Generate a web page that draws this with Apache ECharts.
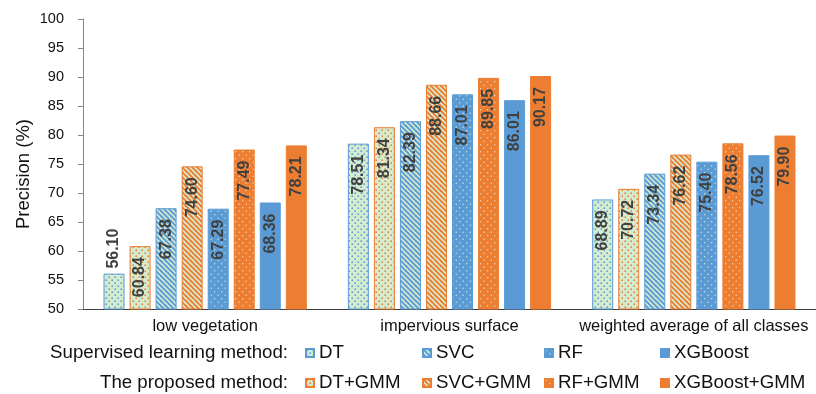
<!DOCTYPE html>
<html>
<head>
<meta charset="utf-8">
<script src="https://cdn.jsdelivr.net/npm/echarts@6/dist/echarts.min.js"></script>
<style>
  html, body { margin: 0; padding: 0; background: #fff; }
  #chart { width: 816px; height: 394px; }
</style>
</head>
<body>
<div id="chart"></div>
<script>
// Land-cover classes on the category axis
const categories = ['low vegetation', 'impervious surface', 'weighted average of all classes'];

// Precision (%) per method, one value per class
const dtValues          = [56.10, 78.51, 68.89];
const dtGmmValues       = [60.84, 81.34, 70.72];
const svcValues         = [67.38, 82.39, 73.34];
const svcGmmValues      = [74.60, 88.66, 76.62];
const rfValues          = [67.29, 87.01, 75.40];
const rfGmmValues       = [77.49, 89.85, 78.56];
const xgbValues         = [68.36, 86.01, 76.52];
const xgbGmmValues      = [78.21, 90.17, 79.90];

// Legend rows: baseline methods and their GMM counterparts
const legendRowBase = ['DT', 'SVC', 'RF', 'XGBoost'];
const legendRowGmm  = ['DT+GMM', 'SVC+GMM', 'RF+GMM', 'XGBoost+GMM'];
const legendRowTitles = ['Supervised learning method:', 'The proposed method:'];

const yTicks = { min: 50, max: 100, step: 5 };

const BLUE = '#5b9bd5';
const ORANGE = '#ed7d31';
const MINT = '#d3ebcf';
const FONT = 'Liberation Sans, Arial, sans-serif';

function tile(size, draw) {
  const c = document.createElement('canvas');
  c.width = size; c.height = size;
  const ctx = c.getContext('2d');
  draw(ctx, size);
  return { image: c, repeat: 'repeat' };
}
function dots(bg, fg, size, r) {
  return tile(size, (ctx, s) => {
    ctx.fillStyle = bg; ctx.fillRect(0, 0, s, s);
    ctx.fillStyle = fg;
    [[1.2, 1.2], [1.2 + s / 2, 1.2 + s / 2]].forEach(([x, y]) => {
      ctx.beginPath(); ctx.arc(x, y, r, 0, Math.PI * 2); ctx.fill();
    });
  });
}
function stripes(bg, fg, size, w) {
  return tile(size, (ctx, s) => {
    ctx.fillStyle = bg; ctx.fillRect(0, 0, s, s);
    ctx.strokeStyle = fg; ctx.lineWidth = w;
    for (let k = -1; k <= 1; k++) {
      ctx.beginPath();
      ctx.moveTo(k * s - 1, -1);
      ctx.lineTo(k * s + s + 1, s + 1);
      ctx.stroke();
    }
  });
}

const methods = [
  { name: 'DT',          values: dtValues,     fill: dots(MINT, BLUE, 6, 0.85),   edge: BLUE },
  { name: 'DT+GMM',      values: dtGmmValues,  fill: dots(MINT, ORANGE, 6, 0.85), edge: ORANGE },
  { name: 'SVC',         values: svcValues,    fill: stripes(MINT, BLUE, 5, 1.9),   edge: BLUE },
  { name: 'SVC+GMM',     values: svcGmmValues, fill: stripes(MINT, ORANGE, 5, 1.9), edge: ORANGE },
  { name: 'RF',          values: rfValues,     fill: dots(BLUE, '#cfe6cf', 7, 0.7),   edge: BLUE },
  { name: 'RF+GMM',      values: rfGmmValues,  fill: dots(ORANGE, '#f3d9b8', 7, 0.7), edge: ORANGE },
  { name: 'XGBoost',     values: xgbValues,    fill: BLUE,   edge: BLUE },
  { name: 'XGBoost+GMM', values: xgbGmmValues, fill: ORANGE, edge: ORANGE }
];

const labelBase = {
  show: true, rotate: 90, color: '#404040', fontFamily: FONT,
  fontSize: 16, fontWeight: 'bold',
  formatter: p => p.value.toFixed(2)
};

const series = methods.map(m => ({
  name: m.name,
  type: 'bar',
  barWidth: 21,
  barGap: '24%',
  itemStyle: { color: m.fill, borderColor: m.edge, borderWidth: 1 },
  data: m.values.map(v => {
    // short bars carry their value label just above the bar
    const outside = v - yTicks.min < 8;
    return {
      value: v,
      label: outside
        ? { position: 'top', align: 'left', verticalAlign: 'middle', distance: 5 }
        : { position: 'insideTop', align: 'right', verticalAlign: 'middle', distance: 11 }
    };
  }),
  label: labelBase
}));

// one legend per entry so every column lines up across both rows
const legendColumns = [305, 422, 544, 660];
const legendRowCenters = [353, 383];
const legendFont = 18.7;
const legends = [];
[legendRowBase, legendRowGmm].forEach((row, r) => {
  row.forEach((name, i) => {
    legends.push({
      selectedMode: false,
      left: legendColumns[i],
      top: legendRowCenters[r] - 11,
      padding: 0,
      itemWidth: 8,
      itemHeight: 8,
      icon: 'rect',
      textStyle: { color: '#111', fontFamily: FONT, fontSize: legendFont, lineHeight: 22 },
      data: [name]
    });
  });
});

const chart = echarts.init(document.getElementById('chart'), null, { renderer: 'canvas' });
chart.setOption({
  animation: false,
  backgroundColor: '#fff',
  grid: { left: 83, right: 0, top: 19, bottom: 85, containLabel: false },
  xAxis: {
    type: 'category',
    data: categories,
    axisLine: { lineStyle: { color: '#404040', width: 1 } },
    axisTick: { show: false },
    axisLabel: { color: '#111', fontFamily: FONT, fontSize: 16.5, margin: 9, interval: 0 }
  },
  yAxis: {
    type: 'value',
    min: yTicks.min, max: yTicks.max, interval: yTicks.step,
    axisLine: { show: true, lineStyle: { color: '#868686' } },
    axisTick: { show: true, length: 5, lineStyle: { color: '#868686' } },
    splitLine: { show: false },
    axisLabel: { color: '#111', fontFamily: FONT, fontSize: 14.5, margin: 19 }
  },
  legend: legends,
  graphic: [
    { type: 'text', x: 24, y: 174, rotation: Math.PI / 2,
      style: { text: 'Precision (%)', fill: '#111', font: '18.5px ' + FONT, align: 'center', verticalAlign: 'middle' } },
    { type: 'text', x: 288, y: legendRowCenters[0],
      style: { text: legendRowTitles[0], fill: '#111', font: legendFont + 'px ' + FONT, align: 'right', verticalAlign: 'middle' } },
    { type: 'text', x: 288, y: legendRowCenters[1],
      style: { text: legendRowTitles[1], fill: '#111', font: legendFont + 'px ' + FONT, align: 'right', verticalAlign: 'middle' } }
  ],
  series: series
});
</script>
</body>
</html>
